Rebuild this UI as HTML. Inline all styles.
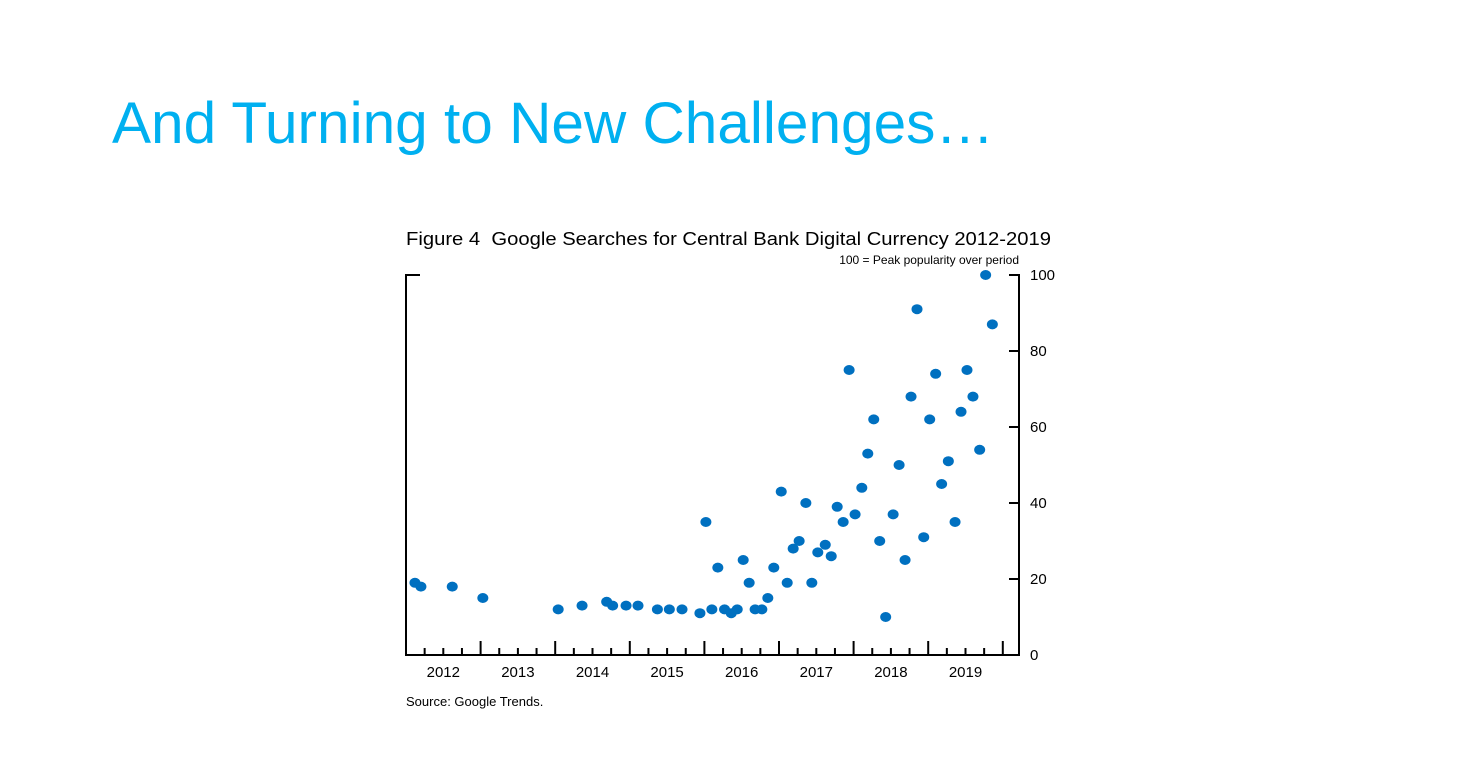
<!DOCTYPE html>
<html><head><meta charset="utf-8"><style>
html,body{margin:0;padding:0;background:#fff;}
svg{display:block;font-family:"Liberation Sans",sans-serif;}
</style></head><body>
<svg width="1464" height="777">
<text x="112" y="143" font-size="58" fill="#00b0f0" textLength="882" lengthAdjust="spacingAndGlyphs">And Turning to New Challenges…</text>
<text x="406" y="245" font-size="18" fill="#000" textLength="645" lengthAdjust="spacingAndGlyphs">Figure 4&#160; Google Searches for Central Bank Digital Currency 2012-2019</text>
<text x="1019" y="264" font-size="12" text-anchor="end" fill="#000">100 = Peak popularity over period</text>
<text x="406" y="706" font-size="13" fill="#000">Source: Google Trends.</text>
<g id="axes"></g>
<g id="marks"></g>
</svg>
<script>
const dates=[2012.12,2012.20,2012.62,2013.03,2014.04,2014.36,2014.69,2014.77,2014.95,2015.11,2015.37,2015.53,2015.70,2015.94,2016.02,2016.10,2016.18,2016.27,2016.36,2016.44,2016.52,2016.60,2016.68,2016.77,2016.85,2016.93,2017.03,2017.11,2017.19,2017.27,2017.36,2017.44,2017.52,2017.62,2017.70,2017.78,2017.86,2017.94,2018.02,2018.11,2018.19,2018.27,2018.35,2018.43,2018.53,2018.61,2018.69,2018.77,2018.85,2018.94,2019.02,2019.10,2019.18,2019.27,2019.36,2019.44,2019.52,2019.60,2019.69,2019.77,2019.86];
const values=[19,18,18,15,12,13,14,13,13,13,12,12,12,11,35,12,23,12,11,12,25,19,12,12,15,23,43,19,28,30,40,19,27,29,26,39,35,75,37,44,53,62,30,10,37,50,25,68,91,31,62,74,45,51,35,64,75,68,54,100,87];
const yTicks=[0,20,40,60,80,100];
const years=[2012,2013,2014,2015,2016,2017,2018,2019];
const NS="http://www.w3.org/2000/svg";
const L=406,R=1019,T=275,B=655;
const x=d=>L+(d-2012)*74.6;
const y=v=>B-(v/100)*(B-T);
function mk(tag,attrs,parent){const e=document.createElementNS(NS,tag);for(const k in attrs)e.setAttribute(k,attrs[k]);parent.appendChild(e);return e;}
const ax=document.getElementById('axes');
let e;
e=mk('path',{d:`M${L+14},${T}H${L}V${B}H${R}V${T}H${R-10}`,fill:'none',stroke:'#000','stroke-width':2},ax);


yTicks.forEach(v=>{
  const t=mk('line',{x1:R-10,x2:R,y1:y(v),y2:y(v),stroke:'#000','stroke-width':2},ax);
  
  
  const lb=mk('text',{x:1030,y:y(v)+5,'font-size':15,fill:'#000'},ax);lb.textContent=v;
  
  
});
for(let q=1;q<33;q++){
  const d=2012+q/4;const major=q%4===0;
  const t=mk('line',{x1:x(d),x2:x(d),y1:B,y2:B-(major?14:7),stroke:'#000','stroke-width':2},ax);
  
  
}
years.forEach(yr=>{
  const lb=mk('text',{x:x(yr+0.5),y:677,'font-size':15,'text-anchor':'middle',fill:'#000'},ax);lb.textContent=yr;
  
  
});
const mg=document.getElementById('marks');
dates.forEach((d,i)=>{
  const c=mk('ellipse',{cx:x(d),cy:y(values[i]),rx:5.5,ry:5,fill:'#0070c0'},mg);
  
  
});
</script>
</body></html>
